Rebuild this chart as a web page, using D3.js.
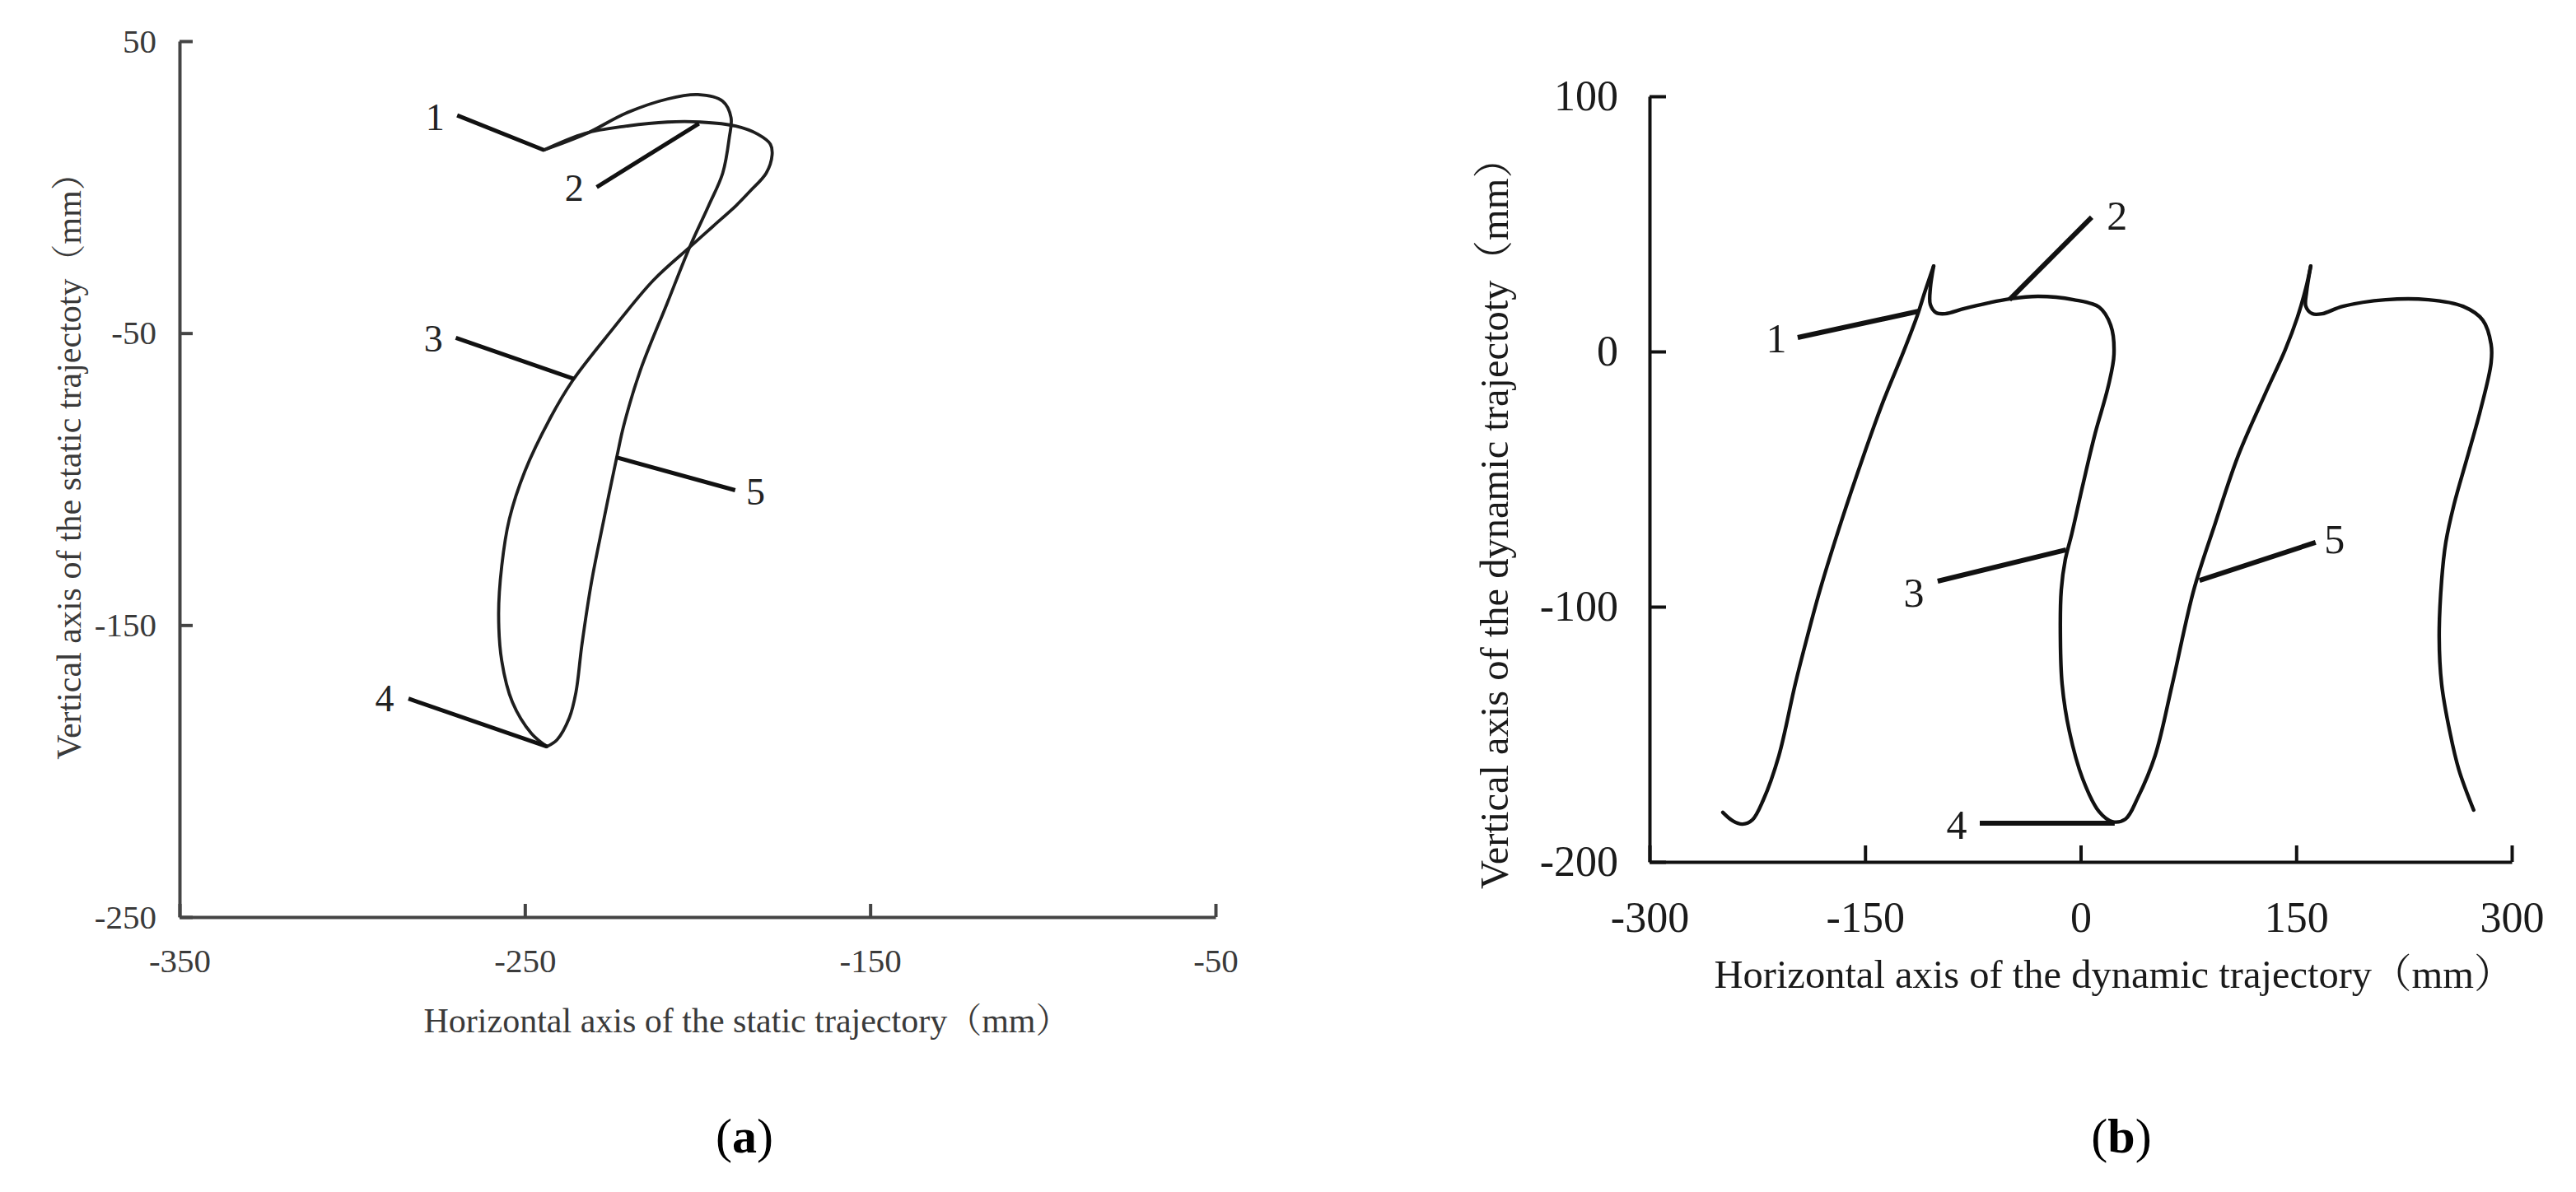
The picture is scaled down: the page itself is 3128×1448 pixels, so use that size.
<!DOCTYPE html>
<html>
<head>
<meta charset="utf-8">
<script src="https://cdn.jsdelivr.net/npm/d3@7"></script>
<style>
  html, body { margin: 0; padding: 0; background: #fff; }
  svg { display: block; }
</style>
</head>
<body>
<script>
// ---------------- DATA ----------------
// (a) static trajectory, one closed loop (mm)
const staticX = [-244.5, -232.6, -220.6, -208.7, -199.2, -188.9, -182.5, -178.9, -178.4, -180.1, -184.8, -188.9, -195.6, -202.3, -212.8, -224.7, -236.2, -242.6, -250.0, -254.5, -256.7, -257.6, -256.7, -253.6, -248.1, -243.6,
                 -240.7, -237.1, -235.2, -233.5, -230.7, -227.1, -223.3, -221.4, -216.6, -208.7, -202.3, -196.8, -192.7, -190.8, -190.3, -192.7, -199.9, -208.7, -220.6, -232.6, -244.5];
const staticY = [12.7, 18.4, 20.9, 22.3, 22.3, 20.9, 18.1, 14.7, 11.1, 4.8, -1.4, -6.4, -13.5, -20.6, -31.9, -48.8, -66.3, -79.0, -97.3, -113.7, -129.8, -146.2, -162.2, -176.4, -187.1, -191.6,
                 -189.3, -181.7, -173.0, -156.9, -135.2, -113.7, -92.0, -81.8, -62.9, -39.5, -20.6, -6.4, 4.8, 17.0, 23.8, 29.4, 31.7, 30.2, 25.4, 18.1, 12.7];
const staticBreaks = [0, 25, 46];          // sharp points (vertex 1, point 4)
const staticXTicks = [-350, -250, -150, -50];
const staticYTicks = [50, -50, -150, -250];
const staticLabels = ["1", "2", "3", "4", "5"];
const staticLabelX = [-276.0, -235.7, -276.5, -290.6, -183.2];
const staticLabelY = [24.0, -0.2, -51.9, -175.0, -104.4];
const staticLeadX1 = [-269.6, -229.2, -270.0, -283.7, -189.1];
const staticLeadY1 = [24.6, 0.0, -51.6, -175.2, -103.8];
const staticLeadX2 = [-244.5, -199.6, -235.7, -243.6, -223.7];
const staticLeadY2 = [12.7, 21.8, -65.7, -191.6, -92.5];

// (b) dynamic trajectory, about two periods (mm)
const dynX = [-249.0, -242.1, -235.3, -228.4, -220.9, -210.0, -198.6, -190.0, -181.4, -166.5, -151.5, -137.3, -123.0, -113.8, -108.1, -102.3,
              -104.6, -104.6, -100.6, -94.3, -81.1, -64.5, -49.6, -29.6, -4.9, 12.8, 20.9, 23.2, 19.1, 10.0, 1.4, -6.1, -10.7, -13.5, -14.1, -12.9, -7.8, 1.4, 12.8, 22.0, 31.2, 39.8, 51.8, 63.8, 78.7, 93.6, 109.5, 128.5, 142.3, 150.9, 156.7, 160.1,
              157.2, 156.7, 161.2, 168.1, 182.4, 212.2, 242.0, 266.1, 279.8, 285.6, 285.6, 278.1, 269.0, 259.8, 254.1, 251.2, 249.5, 251.2, 256.9, 263.2, 273.5];
const dynY = [-180.6, -183.9, -185.2, -183.5, -175.8, -158.4, -130.3, -111.3, -93.5, -66.5, -41.5, -19.4, 0.3, 13.9, 23.9, 33.5,
              24.8, 18.4, 15.2, 14.8, 16.8, 19.0, 20.6, 21.6, 20.3, 17.4, 10.3, -1.0, -13.9, -32.3, -52.6, -71.3, -81.6, -93.5, -111.9, -130.3, -149.0, -167.4, -180.3, -184.2, -183.2, -174.8, -158.4, -130.3, -93.5, -67.4, -41.0, -16.5, 0.6, 13.5, 24.8, 33.5,
              23.2, 17.7, 14.8, 14.8, 17.7, 20.3, 20.3, 17.7, 12.3, 2.9, -4.5, -23.2, -41.6, -60.0, -74.8, -89.7, -111.9, -130.3, -149.0, -163.9, -179.7];
const dynBreaks = [0, 15, 51, 72];         // cusps at the spikes
const dynXTicks = [-300, -150, 0, 150, 300];
const dynYTicks = [100, 0, -100, -200];
const dynLabels = ["1", "2", "3", "4", "5"];
const dynLabelX = [-211.8, 25.4, -116.1, -86.3, 176.7];
const dynLabelY = [5.2, 53.2, -94.5, -185.5, -73.5];
const dynLeadX1 = [-196.9, 7.7, -99.5, -70.2, 163.5];
const dynLeadY1 = [5.5, 52.6, -90.0, -184.8, -74.8];
const dynLeadX2 = [-112.6, -49.6, -10.1, 23.7, 82.7];
const dynLeadY2 = [15.8, 20.3, -77.7, -184.8, -89.7];

const titles = {
  ax: "Horizontal axis of the static trajectory（mm）",
  ay: "Vertical axis of the static trajectoty（mm）",
  bx: "Horizontal axis of the dynamic trajectory（mm）",
  by: "Vertical axis of the dynamic trajectoty（mm）"
};

// ---------------- DRAW ----------------
const W = 3128, H = 1448;
const FONT = "'Liberation Serif','Times New Roman','Noto Serif CJK SC','Noto Sans CJK SC',serif";
const svg = d3.select("body").append("svg").attr("width", W).attr("height", H);
svg.append("rect").attr("width", W).attr("height", H).attr("fill", "#fff");

function panel(cfg) {
  const g = svg.append("g");
  const x = d3.scaleLinear().domain(cfg.xDomain).range(cfg.xRange);
  const y = d3.scaleLinear().domain(cfg.yDomain).range(cfg.yRange);

  const xa = g.append("g").attr("transform", `translate(0,${cfg.yRange[0]})`)
    .call(d3.axisBottom(x).tickValues(cfg.xTicks).tickSizeInner(-cfg.tick).tickSizeOuter(0)
      .tickPadding(cfg.xPad).tickFormat(d => String(d)));
  const ya = g.append("g").attr("transform", `translate(${cfg.xRange[0]},0)`)
    .call(d3.axisLeft(y).tickValues(cfg.yTicks).tickSizeInner(-cfg.tick).tickSizeOuter(0)
      .tickPadding(cfg.yPad).tickFormat(d => String(d)));
  [xa, ya].forEach(a => {
    a.select(".domain").attr("stroke", cfg.axisColor).attr("stroke-width", 4);
    a.selectAll(".tick line").attr("stroke", cfg.axisColor).attr("stroke-width", 4);
    a.selectAll(".tick text").attr("fill", cfg.textColor)
      .style("font-family", FONT).style("font-size", cfg.tickFont + "px");
  });

  // trajectory, split at sharp points
  const line = d3.line().x(i => x(cfg.X[i])).y(i => y(cfg.Y[i])).curve(d3.curveCatmullRom.alpha(0.5));
  for (let k = 0; k < cfg.breaks.length - 1; k++) {
    const idx = d3.range(cfg.breaks[k], cfg.breaks[k + 1] + 1);
    g.append("path").attr("d", line(idx)).attr("fill", "none")
      .attr("stroke", cfg.curveColor).attr("stroke-width", cfg.curveWidth)
      .attr("stroke-linejoin", "round").attr("stroke-linecap", "round");
  }

  // leader lines and labels
  cfg.labels.forEach((t, i) => {
    g.append("line")
      .attr("x1", x(cfg.lx1[i])).attr("y1", y(cfg.ly1[i]))
      .attr("x2", x(cfg.lx2[i])).attr("y2", y(cfg.ly2[i]))
      .attr("stroke", "#111").attr("stroke-width", cfg.leadWidth);
    g.append("text").attr("x", x(cfg.tx[i])).attr("y", y(cfg.ty[i]))
      .attr("text-anchor", "middle").attr("dominant-baseline", "central")
      .attr("fill", cfg.labelColor)
      .style("font-family", FONT).style("font-size", cfg.labelFont + "px").text(t);
  });

  // axis titles
  g.append("text").attr("x", cfg.xTitlePos[0]).attr("y", cfg.xTitlePos[1])
    .attr("text-anchor", "middle").attr("fill", cfg.textColor)
    .style("font-family", FONT).style("font-size", cfg.titleFont + "px").text(cfg.xTitle);
  g.append("text").attr("transform", `translate(${cfg.yTitlePos[0]},${cfg.yTitlePos[1]}) rotate(-90)`)
    .attr("text-anchor", "middle").attr("fill", cfg.textColor)
    .style("font-family", FONT).style("font-size", cfg.titleFont + "px").text(cfg.yTitle);

  // panel letter
  const cap = g.append("text").attr("x", cfg.capPos[0]).attr("y", cfg.capPos[1])
    .attr("text-anchor", "middle").attr("fill", "#000")
    .style("font-family", FONT).style("font-size", "60px");
  cap.append("tspan").text("(");
  cap.append("tspan").attr("font-weight", "bold").text(cfg.cap);
  cap.append("tspan").text(")");
}

panel({
  xDomain: [-350, -50], xRange: [218, 1476],
  yDomain: [-250, 50], yRange: [1114, 50],
  xTicks: staticXTicks, yTicks: staticYTicks,
  tick: 16, xPad: 38, yPad: 28,
  axisColor: "#444", textColor: "#3a3a3a", labelColor: "#222",
  tickFont: 41, titleFont: 42, labelFont: 46,
  X: staticX, Y: staticY, breaks: staticBreaks,
  curveColor: "#1e1e1e", curveWidth: 3.8, leadWidth: 5,
  labels: staticLabels, tx: staticLabelX, ty: staticLabelY,
  lx1: staticLeadX1, ly1: staticLeadY1, lx2: staticLeadX2, ly2: staticLeadY2,
  xTitle: titles.ax, yTitle: titles.ay,
  xTitlePos: [907, 1254], yTitlePos: [98, 556],
  cap: "a", capPos: [904, 1400]
});

panel({
  xDomain: [-300, 300], xRange: [2003, 3050],
  yDomain: [-200, 100], yRange: [1047, 117],
  xTicks: dynXTicks, yTicks: dynYTicks,
  tick: 20, xPad: 48, yPad: 38,
  axisColor: "#111", textColor: "#1a1a1a", labelColor: "#1a1a1a",
  tickFont: 52, titleFont: 48.5, labelFont: 50,
  X: dynX, Y: dynY, breaks: dynBreaks,
  curveColor: "#111", curveWidth: 4.4, leadWidth: 6,
  labels: dynLabels, tx: dynLabelX, ty: dynLabelY,
  lx1: dynLeadX1, ly1: dynLeadY1, lx2: dynLeadX2, ly2: dynLeadY2,
  xTitle: titles.bx, yTitle: titles.by,
  xTitlePos: [2567, 1200], yTitlePos: [1831, 624],
  cap: "b", capPos: [2576, 1400]
});
</script>
</body>
</html>
